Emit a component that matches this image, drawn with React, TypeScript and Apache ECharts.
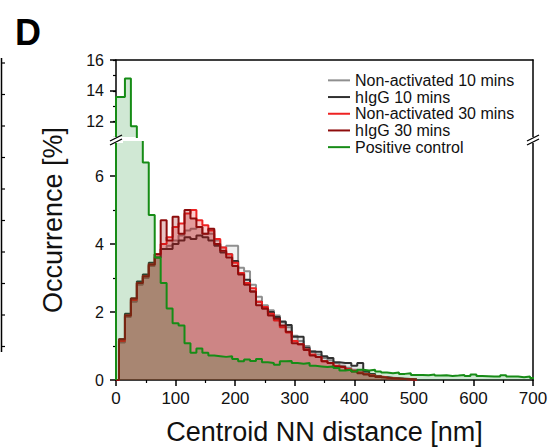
import React, { useEffect, useRef } from "react";
import * as echarts from "echarts";

// ---------- data ----------
const binCenters = [
  0, 10, 20, 30, 40, 50, 60, 70, 80, 90, 100, 110, 120, 130, 140, 150, 160, 170, 180, 190,
  200, 210, 220, 230, 240, 250, 260, 270, 280, 290, 300, 310, 320, 330, 340, 350, 360, 370, 380, 390,
  400, 410, 420, 430, 440, 450, 460, 470, 480, 490, 500, 510, 520, 530, 540, 550, 560, 570, 580, 590,
  600, 610, 620, 630, 640, 650, 660, 670, 680, 690, 700,
];
const BIN_WIDTH = 10;

const nonActivated10 = [
  0, 1.1, 1.85, 2.3, 2.8, 3.0, 3.35, 3.6, 3.85, 3.95, 4.1, 4.25, 4.4, 4.45, 4.5, 4.3, 4.3, 4.1, 3.9, 3.95,
  3.95, 3.3, 3.2, 2.8, 2.45, 2.2, 2.05, 1.9, 1.7, 1.55, 1.3, 1.15, 1.0, 0.85, 0.75, 0.65, 0.58, 0.5, 0.42, 0.36,
  0.3, 0.26, 0.2, 0.16, 0.12, 0.09, 0.07, 0.05, 0.04, 0.03, 0.02,
];
const hIgG10 = [
  0, 1.2, 1.95, 2.4, 2.9, 3.1, 3.45, 3.6, 3.85, 3.85, 4.0, 4.1, 4.2, 4.15, 4.25, 4.2, 4.1, 3.95, 3.75, 3.7,
  3.5, 3.15, 2.95, 2.6, 2.3, 2.1, 2.0, 1.85, 1.72, 1.62, 1.27, 1.27, 0.95, 0.83, 0.83, 0.7, 0.65, 0.52, 0.5, 0.5,
  0.42, 0.5, 0.25, 0.18, 0.12, 0.08, 0.06, 0.05, 0.04, 0.03, 0.02,
];
const nonActivated30 = [
  0, 1.15, 1.9, 2.35, 2.85, 3.05, 3.4, 3.7, 4.0, 4.2, 4.5, 4.6, 4.9, 5.0, 4.7, 4.55, 4.4, 4.15, 3.9, 3.7,
  3.45, 3.15, 2.85, 2.7, 2.3, 2.15, 1.95, 1.75, 1.55, 1.4, 1.15, 1.05, 0.9, 0.75, 0.68, 0.55, 0.5, 0.42, 0.38, 0.32,
  0.27, 0.22, 0.18, 0.14, 0.1, 0.08, 0.05, 0.04, 0.03, 0.02, 0.01,
];
const hIgG30 = [
  0, 1.2, 1.9, 2.4, 2.85, 3.05, 3.4, 3.7, 4.7, 4.1, 4.8, 4.3, 5.0, 4.75, 4.5, 4.3, 4.45, 4.0, 3.8, 3.6,
  3.35, 3.1, 2.8, 2.6, 2.2, 2.1, 1.9, 1.8, 1.6, 1.42, 1.08, 1.05, 0.88, 0.72, 0.68, 0.55, 0.5, 0.4, 0.38, 0.3,
  0.25, 0.2, 0.16, 0.12, 0.09, 0.07, 0.05, 0.04, 0.03, 0.02, 0.01,
];
const positiveControl = [
  13.6, 13.6, 14.8, 11.7, 9.5, 6.4, 4.85, 3.6, 2.85, 2.1, 1.67, 1.6, 1.08, 0.8, 0.93, 0.8, 0.72, 0.7, 0.68, 0.7,
  0.62, 0.55, 0.6, 0.56, 0.62, 0.52, 0.5, 0.45, 0.55, 0.56, 0.5, 0.48, 0.5, 0.42, 0.4, 0.38, 0.4, 0.35, 0.28, 0.3,
  0.25, 0.3, 0.28, 0.3, 0.25, 0.22, 0.2, 0.22, 0.18, 0.2, 0.15, 0.15, 0.14, 0.16, 0.13, 0.14, 0.12, 0.13, 0.15, 0.12,
  0.16, 0.12, 0.11, 0.1, 0.1, 0.14, 0.1, 0.1, 0.08, 0.1, 0.06,
];

const seriesNames = [
  "Non-activated 10 mins",
  "hIgG 10 mins",
  "Non-activated 30 mins",
  "hIgG 30 mins",
  "Positive control",
];
const seriesLineColors = ["#8f8f8f", "#303030", "#ee2222", "#8e0c0c", "#168c16"];
const seriesFillColors = [
  "rgba(140,140,140,0.12)",
  "rgba(50,50,50,0.12)",
  "rgba(238,30,30,0.23)",
  "rgba(150,0,0,0.23)",
  "rgba(20,140,40,0.20)",
];
const seriesValues = [nonActivated10, hIgG10, nonActivated30, hIgG30, positiveControl];

const xTickMin = 0;
const xTickMax = 700;
const xTickInterval = 100;
const yLowerMin = 0;
const yLowerMax = 7;
const yLowerInterval = 2;
const yUpperMin = 11;
const yUpperMax = 16;
const yUpperLabels = [12, 14, 16];

const FONT = "'Liberation Sans', Arial, Helvetica, sans-serif";

function binLeft(i: number) {
  return Math.max(0, binCenters[i] - BIN_WIDTH / 2);
}

// full step outline of a histogram
function histPoints(values: number[]): [number, number][] {
  const pts: [number, number][] = [];
  values.forEach((v, i) => {
    if (i === 0) pts.push([binLeft(i), 0]);
    pts.push([binLeft(i), v]);
  });
  const last = values.length - 1;
  const right = binCenters[last] + BIN_WIDTH / 2;
  pts.push([right, values[last]]);
  pts.push([right, 0]);
  return pts;
}

// only the part of the outline that reaches the upper (broken) segment
function upperHistPoints(values: number[], floor: number): [number, number][] {
  const pts: [number, number][] = [];
  for (let i = 0; i < values.length; i++) {
    if (i === 0) pts.push([binLeft(i), floor - 0.5]);
    pts.push([binLeft(i), values[i]]);
    if (values[i] < floor) break;
  }
  return pts;
}

export default function App() {
  const ref = useRef<HTMLDivElement>(null);

  useEffect(() => {
    document.body.style.margin = "0";
    if (!ref.current) return;
    const chart = echarts.init(ref.current, undefined, { renderer: "svg" });

    const axisLineStyle = { color: "#000", width: 1.5 };

    const lowerSeries = seriesValues.map((vals, k) => ({
      name: seriesNames[k],
      type: "line",
      xAxisIndex: 1,
      yAxisIndex: 3,
      step: "end",
      symbol: "none",
      showSymbol: false,
      clip: true,
      data: histPoints(vals),
      lineStyle: { color: seriesLineColors[k], width: 2 },
      itemStyle: { color: seriesLineColors[k] },
      areaStyle: { color: seriesFillColors[k], opacity: 1 },
      z: 2 + k,
    }));

    const upperGreen = {
      name: seriesNames[4],
      type: "line",
      xAxisIndex: 0,
      yAxisIndex: 0,
      step: "end",
      symbol: "none",
      showSymbol: false,
      clip: true,
      data: upperHistPoints(positiveControl, yUpperMin),
      lineStyle: { color: seriesLineColors[4], width: 2 },
      itemStyle: { color: seriesLineColors[4] },
      areaStyle: { color: seriesFillColors[4], opacity: 1 },
      z: 7,
    };

    const leftPanelTicks: any[] = [];
    for (let k = 0; k < 10; k++) {
      const y = 63 + k * 31.5;
      leftPanelTicks.push({
        type: "line",
        shape: { x1: 1, y1: y, x2: 5, y2: y },
        style: { stroke: "#000", lineWidth: 1.2 },
      });
    }

    const breakMark = (cx: number, cy: number) => [
      {
        type: "rect",
        shape: { x: cx - 7, y: cy - 3, width: 14, height: 6 },
        style: { fill: "#fff" },
        z: 100,
      },
      {
        type: "line",
        shape: { x1: cx - 6, y1: cy + 1, x2: cx + 6, y2: cy - 5 },
        style: { stroke: "#000", lineWidth: 1.3 },
        z: 101,
      },
      {
        type: "line",
        shape: { x1: cx - 6, y1: cy + 5, x2: cx + 6, y2: cy - 1 },
        style: { stroke: "#000", lineWidth: 1.3 },
        z: 101,
      },
    ];

    chart.setOption({
      animation: false,
      backgroundColor: "#fff",
      textStyle: { fontFamily: FONT },
      grid: [
        { left: 116, right: 19, top: 60, height: 77 },
        { left: 116, right: 19, top: 142, bottom: 67 },
      ],
      legend: {
        orient: "vertical",
        left: 328,
        top: 72,
        icon: "rect",
        itemWidth: 22,
        itemHeight: 2,
        itemGap: 0,
        padding: 0,
        textStyle: { fontSize: 16, lineHeight: 16.7, color: "#111", fontFamily: FONT },
        data: seriesNames,
      },
      xAxis: [
        {
          gridIndex: 0,
          type: "value",
          min: xTickMin,
          max: xTickMax,
          position: "top",
          axisLine: { show: true, onZero: false, lineStyle: axisLineStyle },
          axisTick: { show: false },
          axisLabel: { show: false },
          splitLine: { show: false },
        },
        {
          gridIndex: 1,
          type: "value",
          min: xTickMin,
          max: xTickMax,
          interval: xTickInterval,
          position: "bottom",
          axisLine: { show: true, onZero: false, lineStyle: axisLineStyle },
          axisTick: { show: true, length: 6, lineStyle: { color: "#000", width: 1.5 } },
          minorTick: { show: true, splitNumber: 2, length: 3, lineStyle: { color: "#000", width: 1.2 } },
          axisLabel: { fontSize: 17, color: "#111", margin: 10, fontFamily: FONT },
          splitLine: { show: false },
          minorSplitLine: { show: false },
        },
      ],
      yAxis: [
        {
          gridIndex: 0,
          type: "value",
          min: yUpperMin,
          max: yUpperMax,
          interval: 1,
          position: "left",
          axisLine: { show: true, onZero: false, lineStyle: axisLineStyle },
          axisTick: { show: true, length: 3, lineStyle: { color: "#000", width: 1.2 } },
          axisLabel: { show: false },
          splitLine: { show: false },
        },
        {
          gridIndex: 0,
          type: "value",
          min: yUpperMin,
          max: yUpperMax,
          position: "left",
          axisLine: { show: false, onZero: false },
          axisTick: { show: true, length: 6, customValues: yUpperLabels, lineStyle: { color: "#000", width: 1.5 } },
          axisLabel: { show: true, customValues: yUpperLabels, fontSize: 16, color: "#111", margin: 12, fontFamily: FONT },
          splitLine: { show: false },
        },
        {
          gridIndex: 0,
          type: "value",
          min: yUpperMin,
          max: yUpperMax,
          position: "right",
          axisLine: { show: true, onZero: false, lineStyle: axisLineStyle },
          axisTick: { show: false },
          axisLabel: { show: false },
          splitLine: { show: false },
        },
        {
          gridIndex: 1,
          type: "value",
          min: yLowerMin,
          max: yLowerMax,
          interval: yLowerInterval,
          position: "left",
          axisLine: { show: true, onZero: false, lineStyle: axisLineStyle },
          axisTick: { show: true, length: 6, lineStyle: { color: "#000", width: 1.5 } },
          minorTick: { show: true, splitNumber: 2, length: 3, lineStyle: { color: "#000", width: 1.2 } },
          axisLabel: { fontSize: 16, color: "#111", margin: 12, fontFamily: FONT, showMaxLabel: false },
          splitLine: { show: false },
          minorSplitLine: { show: false },
        },
        {
          gridIndex: 1,
          type: "value",
          min: yLowerMin,
          max: yLowerMax,
          position: "right",
          axisLine: { show: true, onZero: false, lineStyle: axisLineStyle },
          axisTick: { show: false },
          axisLabel: { show: false },
          splitLine: { show: false },
        },
      ],
      series: [...lowerSeries, upperGreen],
      graphic: [
        {
          type: "text",
          x: 15,
          y: 14,
          style: { text: "D", font: `bold 36px ${FONT}`, fill: "#000", textVerticalAlign: "top" },
        },
        {
          type: "text",
          x: 53,
          y: 220,
          rotation: Math.PI / 2,
          style: {
            text: "Occurrence [%]",
            font: `27px ${FONT}`,
            fill: "#111",
            textAlign: "center",
            textVerticalAlign: "middle",
          },
        },
        {
          type: "text",
          x: 324.5,
          y: 432,
          style: {
            text: "Centroid NN distance [nm]",
            font: `27px ${FONT}`,
            fill: "#111",
            textAlign: "center",
            textVerticalAlign: "middle",
          },
        },
        {
          type: "line",
          shape: { x1: 1.5, y1: 58, x2: 1.5, y2: 352 },
          style: { stroke: "#000", lineWidth: 1.5 },
        },
        ...leftPanelTicks,
        ...breakMark(116, 140),
        ...breakMark(533, 140),
      ],
    });

    return () => chart.dispose();
  }, []);

  return <div ref={ref} style={{ width: 552, height: 447 }} />;
}
